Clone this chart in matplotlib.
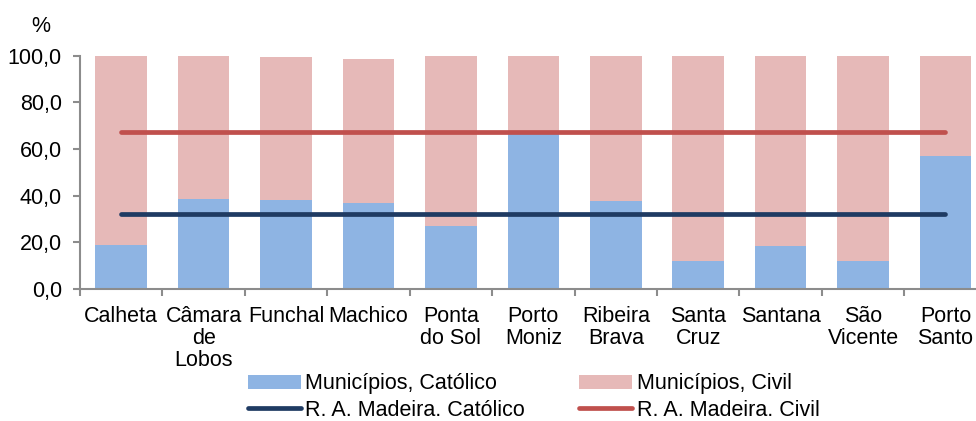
import numpy as np
import matplotlib
matplotlib.use("Agg")
import matplotlib.pyplot as plt
from matplotlib.ticker import FuncFormatter, FixedLocator

plt.rcParams['font.family'] = ['Liberation Sans', 'DejaVu Sans']

municipios = ["Calheta", "Câmara\nde\nLobos", "Funchal", "Machico", "Ponta\ndo Sol",
              "Porto\nMoniz", "Ribeira\nBrava", "Santa\nCruz", "Santana",
              "São\nVicente", "Porto\nSanto"]
catolico = [18.9, 38.6, 38.1, 36.9, 27.1, 66.3, 37.9, 11.9, 18.6, 12.2, 57.0]
civil = [81.1, 61.4, 61.3, 61.8, 72.9, 33.7, 62.1, 88.1, 81.4, 87.8, 43.0]
madeira_catolico = 32.1
madeira_civil = 67.4

BLUE = "#8EB4E3"
PINK = "#E6B9B8"
NAVY = "#1F3B63"
RED = "#C0504D"
GREY = "#8C8C8C"
FS = 15.5

fig = plt.figure(figsize=(9.76, 4.21), dpi=100)
ax = fig.add_axes([80 / 976, 132 / 421, 906.7 / 976, 233.3 / 421])

x = np.arange(len(municipios))
w = 0.625
b1 = ax.bar(x, catolico, w, color=BLUE, zorder=2)
b2 = ax.bar(x, civil, w, bottom=catolico, color=PINK, zorder=2)
l1, = ax.plot([x[0], x[-1]], [madeira_catolico] * 2, color=NAVY, lw=3.4,
              solid_capstyle="round", zorder=3)
l2, = ax.plot([x[0], x[-1]], [madeira_civil] * 2, color=RED, lw=3.4,
              solid_capstyle="round", zorder=3)

ax.set_xlim(-0.5, len(municipios) - 0.5)
ax.set_ylim(0, 100)
ax.set_yticks(np.arange(0, 101, 20))
ax.yaxis.set_major_formatter(FuncFormatter(lambda v, p: f"{v:.1f}".replace(".", ",")))

ax.set_xticks(x)
ax.set_xticklabels(municipios, fontsize=FS, linespacing=1.07)
ax.xaxis.set_minor_locator(FixedLocator(np.arange(-0.5, len(municipios), 1)))
ax.tick_params(axis="x", which="major", length=0, pad=12)
ax.tick_params(axis="x", which="minor", length=5, width=1.5, color=GREY, direction="out")
ax.tick_params(axis="y", length=5, width=1.5, color=GREY, labelsize=FS, pad=8)

for s in ["top", "right"]:
    ax.spines[s].set_visible(False)
for s in ["left", "bottom"]:
    ax.spines[s].set_color(GREY)
    ax.spines[s].set_linewidth(1.5)

fig.text(41 / 976, 1 - 26 / 421, "%", fontsize=FS, ha="center", va="center")

fig.legend([b1, l1, b2, l2],
           ["Municípios, Católico", "R. A. Madeira. Católico",
            "Municípios, Civil", "R. A. Madeira. Civil"],
           ncol=2, loc="center left", bbox_to_anchor=(248 / 976, 1 - 397 / 421),
           frameon=False, fontsize=FS, handlelength=2.45, handleheight=0.6,
           handletextpad=0.22, columnspacing=2.5, labelspacing=0.25,
           borderpad=0, borderaxespad=0)

fig.savefig("out.png", dpi=100)
